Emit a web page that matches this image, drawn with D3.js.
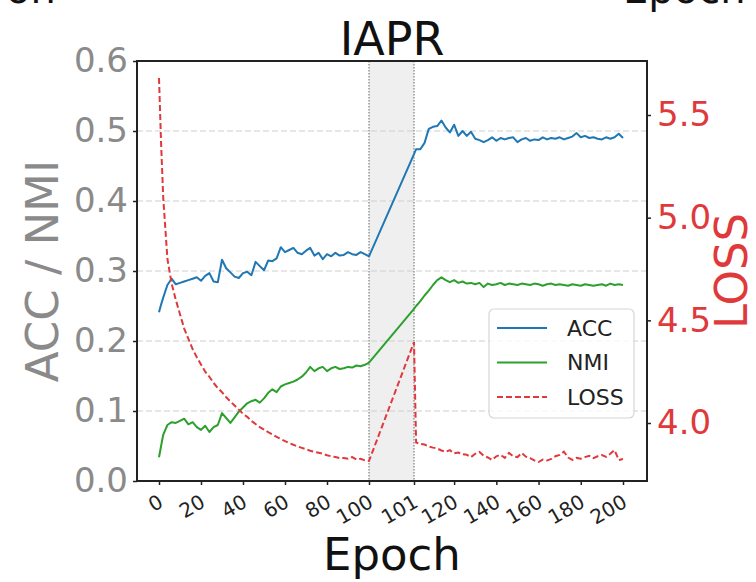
<!DOCTYPE html>
<html>
<head>
<meta charset="utf-8">
<script src="https://cdn.jsdelivr.net/npm/d3@7"></script>
<style>
  html, body { margin: 0; padding: 0; background: #fff; }
  svg { display: block; font-family: "DejaVu Sans", sans-serif; }
</style>
</head>
<body>
<svg id="chart" width="756" height="582"></svg>
<script>
// epochs sampled from the curves (0..100 before the switch, 101..200 after)
const epochs = [
  0, 1, 2, 4, 6, 8, 10, 12, 14, 16, 18, 20, 22, 24, 26, 28, 30, 32, 34, 36, 38, 40,
  42, 44, 46, 48, 50, 52, 54, 56, 58, 60, 62, 64, 66, 68, 70, 72, 74, 76, 78, 80,
  82, 84, 86, 88, 90, 92, 94, 96, 98, 100,
  101, 102, 104, 106, 108, 110, 112, 114, 116, 118, 120, 122, 124, 126, 128, 130,
  132, 134, 136, 138, 140, 142, 144, 146, 148, 150, 152, 154, 156, 158, 160, 162,
  164, 166, 168, 170, 172, 174, 176, 178, 180, 182, 184, 186, 188, 190, 192, 194,
  196, 198, 200
]

const accValues = [
  0.241, 0.252, 0.262, 0.280, 0.289, 0.281, 0.283, 0.285, 0.287, 0.289, 0.291, 0.286,
  0.293, 0.297, 0.285, 0.284, 0.316, 0.304, 0.298, 0.292, 0.290, 0.297, 0.299, 0.294,
  0.313, 0.307, 0.301, 0.315, 0.314, 0.318, 0.334, 0.327, 0.330, 0.333, 0.326, 0.324,
  0.329, 0.333, 0.322, 0.326, 0.317, 0.324, 0.321, 0.326, 0.322, 0.323, 0.327, 0.324,
  0.323, 0.327, 0.324, 0.321,
  0.467, 0.474, 0.474, 0.483, 0.503, 0.506, 0.507, 0.515, 0.505, 0.498, 0.509, 0.493,
  0.500, 0.493, 0.499, 0.489, 0.487, 0.484, 0.487, 0.491, 0.486, 0.490, 0.488, 0.490,
  0.491, 0.484, 0.488, 0.490, 0.486, 0.488, 0.487, 0.491, 0.488, 0.490, 0.489, 0.491,
  0.488, 0.490, 0.492, 0.497, 0.491, 0.493, 0.490, 0.491, 0.489, 0.488, 0.491, 0.489,
  0.491, 0.496, 0.490
]

const nmiValues = [
  0.034, 0.050, 0.066, 0.080, 0.084, 0.083, 0.086, 0.089, 0.081, 0.084, 0.077, 0.073,
  0.079, 0.070, 0.077, 0.080, 0.097, 0.090, 0.083, 0.091, 0.099, 0.105, 0.111, 0.114,
  0.116, 0.112, 0.118, 0.126, 0.131, 0.127, 0.135, 0.138, 0.140, 0.142, 0.145, 0.149,
  0.155, 0.163, 0.157, 0.161, 0.163, 0.157, 0.161, 0.163, 0.160, 0.161, 0.163, 0.162,
  0.165, 0.164, 0.166, 0.169,
  0.246, 0.250, 0.257, 0.265, 0.272, 0.280, 0.287, 0.291, 0.287, 0.284, 0.287, 0.283,
  0.285, 0.282, 0.283, 0.281, 0.283, 0.277, 0.282, 0.280, 0.281, 0.283, 0.280, 0.282,
  0.281, 0.280, 0.282, 0.281, 0.280, 0.282, 0.281, 0.279, 0.281, 0.282, 0.280, 0.281,
  0.280, 0.279, 0.281, 0.280, 0.279, 0.281, 0.280, 0.279, 0.280, 0.281, 0.279, 0.282,
  0.280, 0.281, 0.280
]

const lossValues = [
  5.68, 5.36, 5.10, 4.80, 4.68, 4.60, 4.53, 4.46, 4.41, 4.36, 4.32, 4.285,
  4.25, 4.225, 4.195, 4.17, 4.15, 4.125, 4.105, 4.085, 4.065, 4.045, 4.03, 4.01,
  3.995, 3.98, 3.968, 3.955, 3.945, 3.932, 3.922, 3.912, 3.902, 3.894, 3.886, 3.879,
  3.872, 3.865, 3.86, 3.855, 3.85, 3.843, 3.838, 3.834, 3.829, 3.83, 3.826, 3.834,
  3.822, 3.826, 3.818, 3.815,
  4.394, 3.905, 3.898, 3.895, 3.885, 3.880, 3.876, 3.866, 3.860, 3.868, 3.852, 3.856,
  3.848, 3.845, 3.834, 3.850, 3.859, 3.840, 3.832, 3.820, 3.838, 3.845, 3.830, 3.854,
  3.838, 3.834, 3.854, 3.836, 3.829, 3.818, 3.810, 3.822, 3.817, 3.825, 3.838, 3.845,
  3.860, 3.832, 3.820, 3.830, 3.826, 3.834, 3.840, 3.829, 3.838, 3.844, 3.835, 3.850,
  3.868, 3.820, 3.825
]

const xTicks = [0, 20, 40, 60, 80, 100, 101, 120, 140, 160, 180, 200]
const leftTicks = [0.0, 0.1, 0.2, 0.3, 0.4, 0.5, 0.6]
const rightTicks = [4.0, 4.5, 5.0, 5.5]
const seriesNames = ['ACC', 'NMI', 'LOSS']
const seriesColors = ['#1f77b4', '#2ca02c', '#e0393b']

const box = { left: 137, right: 647, top: 61, bottom: 481 }
const font = '"DejaVu Sans", sans-serif'

const svg = d3.select('#chart')

// the x axis is split: 0..100 then a narrow band for the switch to 101
const x = d3.scaleLinear().domain([0, 100, 101, 200]).range([159, 369, 414, 623])
const yLeft = d3.scaleLinear().domain([0, 0.6]).range([box.bottom, box.top])
const yRight = d3.scaleLinear().domain([4.0, 5.5]).range([423, 115])

// shaded switch band
svg.append('rect')
    .attr('x', x(100)).attr('y', box.top)
    .attr('width', x(101) - x(100)).attr('height', box.bottom - box.top)
    .attr('fill', '#efefef')

// horizontal grid
svg.append('g').selectAll('line')
    .data(leftTicks.filter(d => d > 0 && d < 0.6))
    .enter().append('line')
    .attr('x1', box.left).attr('x2', box.right)
    .attr('y1', d => yLeft(d)).attr('y2', d => yLeft(d))
    .attr('stroke', '#cfcfcf').attr('stroke-width', 1.2)
    .attr('stroke-dasharray', '6,3')

// dotted edges of the band
svg.append('g').selectAll('line')
    .data([100, 101])
    .enter().append('line')
    .attr('x1', d => x(d)).attr('x2', d => x(d))
    .attr('y1', box.top).attr('y2', box.bottom)
    .attr('stroke', '#666').attr('stroke-width', 1)
    .attr('stroke-dasharray', '1.5,1.5')

const rows = epochs.map((e, i) => ({ e: e, acc: accValues[i], nmi: nmiValues[i], loss: lossValues[i] }))

const lineAcc = d3.line().x(d => x(d.e)).y(d => yLeft(d.acc))
const lineNmi = d3.line().x(d => x(d.e)).y(d => yLeft(d.nmi))
const lineLoss = d3.line().x(d => x(d.e)).y(d => yRight(d.loss))

svg.append('path').datum(rows).attr('d', lineAcc)
    .attr('fill', 'none').attr('stroke', seriesColors[0]).attr('stroke-width', 2)
    .attr('stroke-linejoin', 'round')
svg.append('path').datum(rows).attr('d', lineNmi)
    .attr('fill', 'none').attr('stroke', seriesColors[1]).attr('stroke-width', 2)
    .attr('stroke-linejoin', 'round')
svg.append('path').datum(rows).attr('d', lineLoss)
    .attr('fill', 'none').attr('stroke', seriesColors[2]).attr('stroke-width', 2)
    .attr('stroke-dasharray', '6,3')

// frame
svg.append('rect')
    .attr('x', box.left).attr('y', box.top)
    .attr('width', box.right - box.left).attr('height', box.bottom - box.top)
    .attr('fill', 'none').attr('stroke', '#222').attr('stroke-width', 2)

// left axis
let gl = svg.append('g').attr('transform', 'translate(' + box.left + ',0)')
    .call(d3.axisLeft(yLeft).tickValues(leftTicks).tickSize(4).tickPadding(5).tickFormat(d3.format('.1f')))
gl.select('.domain').remove()
gl.selectAll('.tick line').attr('stroke', '#222').attr('stroke-width', 1.5)
gl.selectAll('.tick text').attr('font-size', 34).attr('font-family', font).attr('fill', '#8a8a8a')

// right axis
let gr = svg.append('g').attr('transform', 'translate(' + box.right + ',0)')
    .call(d3.axisRight(yRight).tickValues(rightTicks).tickSize(4).tickPadding(6).tickFormat(d3.format('.1f')))
gr.select('.domain').remove()
gr.selectAll('.tick line').attr('stroke', '#222').attr('stroke-width', 1.5)
gr.selectAll('.tick text').attr('font-size', 34).attr('font-family', font).attr('fill', '#e0393b')

// bottom axis, rotated labels
let gb = svg.append('g').attr('transform', 'translate(0,' + box.bottom + ')')
    .call(d3.axisBottom(x).tickValues(xTicks).tickSize(4).tickFormat(d3.format('d')))
gb.select('.domain').remove()
gb.selectAll('.tick line').attr('stroke', '#222').attr('stroke-width', 1.5)
gb.selectAll('.tick text')
    .attr('font-size', 20).attr('font-family', font).attr('fill', '#222')
    .attr('text-anchor', 'end').attr('x', 0).attr('y', 0).attr('dy', 0)
    .attr('transform', 'translate(5,25) rotate(-30)')

// titles
svg.append('text').attr('x', (box.left + box.right) / 2).attr('y', 55)
    .attr('text-anchor', 'middle').attr('font-size', 46).attr('font-family', font)
    .attr('fill', '#111').text('IAPR')
svg.append('text').attr('x', (box.left + box.right) / 2).attr('y', 570)
    .attr('text-anchor', 'middle').attr('font-size', 45).attr('font-family', font)
    .attr('fill', '#111').text('Epoch')
svg.append('text').attr('transform', 'translate(58,' + (box.top + box.bottom) / 2 + ') rotate(-90)')
    .attr('text-anchor', 'middle').attr('font-size', 45).attr('font-family', font)
    .attr('fill', '#8a8a8a').text('ACC / NMI')
svg.append('text').attr('transform', 'translate(747,' + (box.top + box.bottom) / 2 + ') rotate(-90)')
    .attr('text-anchor', 'middle').attr('font-size', 45).attr('font-family', font)
    .attr('fill', '#e0393b').text('LOSS')

// cut-off labels of the neighbouring panels above
svg.append('text').attr('x', 6).attr('y', 3)
    .attr('font-size', 40).attr('font-family', font).attr('fill', '#111').text('on')
svg.append('text').attr('x', 623).attr('y', 3)
    .attr('font-size', 40).attr('font-family', font).attr('fill', '#111').text('Epoch')

// legend
let lg = svg.append('g').attr('transform', 'translate(489,309)')
lg.append('rect').attr('width', 145).attr('height', 109).attr('rx', 5)
    .attr('fill', '#fff').attr('fill-opacity', 0.8)
    .attr('stroke', '#d6d6d6').attr('stroke-width', 1.2)
let item = lg.selectAll('g.item').data(seriesNames).enter().append('g')
    .attr('class', 'item')
    .attr('transform', (d, i) => 'translate(0,' + (19 + i * 34.5) + ')')
item.append('line').attr('x1', 8).attr('x2', 58).attr('y1', 0).attr('y2', 0)
    .attr('stroke', (d, i) => seriesColors[i]).attr('stroke-width', 2)
    .attr('stroke-dasharray', d => d === 'LOSS' ? '6,3' : null)
item.append('text').attr('x', 78).attr('y', 0).attr('dy', '0.36em')
    .attr('font-size', 22).attr('font-family', font).attr('fill', '#222')
    .text(d => d)
</script>
</body>
</html>
